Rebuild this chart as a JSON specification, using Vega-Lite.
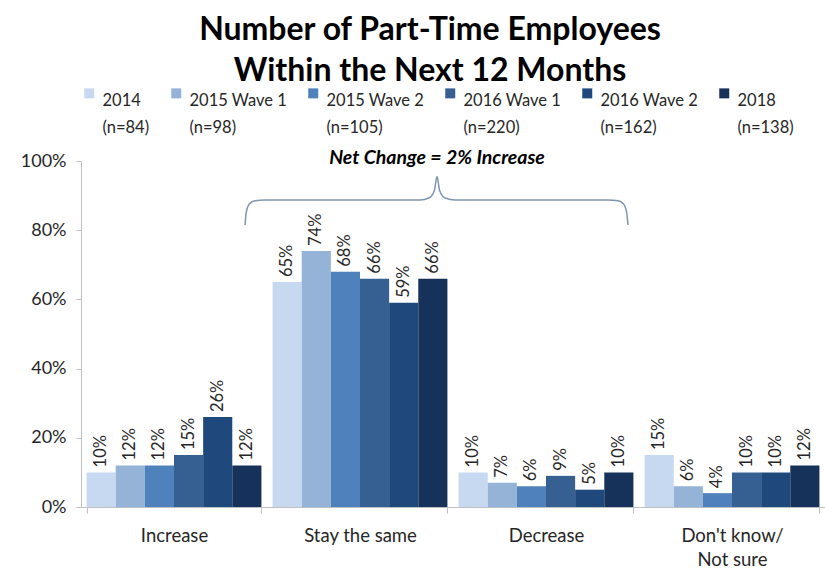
{
  "$schema": "https://vega.github.io/schema/vega-lite/v6.json",
  "width": 744,
  "height": 346,
  "autosize": "none",
  "padding": {"left": 81, "top": 161, "right": 0, "bottom": 62},
  "background": "white",
  "config": {
    "font": "Lato",
    "view": {"stroke": null},
    "style": {"guide-label": {"lineHeight": 27}}
  },
  "title": {
    "text": ["Number of Part-Time Employees", "Within the Next 12 Months"],
    "fontSize": 32,
    "fontWeight": "bold",
    "font": "Lato",
    "color": "#000000",
    "lineHeight": 41,
    "anchor": "middle",
    "dx": -23,
    "offset": -3
  },
  "datasets": {
    "bars": [
      {"cat": "Increase", "wave": "2014|(n=84)", "v": 0.10},
      {"cat": "Increase", "wave": "2015 Wave 1|(n=98)", "v": 0.12},
      {"cat": "Increase", "wave": "2015 Wave 2|(n=105)", "v": 0.12},
      {"cat": "Increase", "wave": "2016 Wave 1|(n=220)", "v": 0.15},
      {"cat": "Increase", "wave": "2016 Wave 2|(n=162)", "v": 0.26},
      {"cat": "Increase", "wave": "2018|(n=138)", "v": 0.12},
      {"cat": "Stay the same", "wave": "2014|(n=84)", "v": 0.65},
      {"cat": "Stay the same", "wave": "2015 Wave 1|(n=98)", "v": 0.74},
      {"cat": "Stay the same", "wave": "2015 Wave 2|(n=105)", "v": 0.68},
      {"cat": "Stay the same", "wave": "2016 Wave 1|(n=220)", "v": 0.66},
      {"cat": "Stay the same", "wave": "2016 Wave 2|(n=162)", "v": 0.59},
      {"cat": "Stay the same", "wave": "2018|(n=138)", "v": 0.66},
      {"cat": "Decrease", "wave": "2014|(n=84)", "v": 0.10},
      {"cat": "Decrease", "wave": "2015 Wave 1|(n=98)", "v": 0.07},
      {"cat": "Decrease", "wave": "2015 Wave 2|(n=105)", "v": 0.06},
      {"cat": "Decrease", "wave": "2016 Wave 1|(n=220)", "v": 0.09},
      {"cat": "Decrease", "wave": "2016 Wave 2|(n=162)", "v": 0.05},
      {"cat": "Decrease", "wave": "2018|(n=138)", "v": 0.10},
      {"cat": "Don't know/|Not sure", "wave": "2014|(n=84)", "v": 0.15},
      {"cat": "Don't know/|Not sure", "wave": "2015 Wave 1|(n=98)", "v": 0.06},
      {"cat": "Don't know/|Not sure", "wave": "2015 Wave 2|(n=105)", "v": 0.04},
      {"cat": "Don't know/|Not sure", "wave": "2016 Wave 1|(n=220)", "v": 0.10},
      {"cat": "Don't know/|Not sure", "wave": "2016 Wave 2|(n=162)", "v": 0.10},
      {"cat": "Don't know/|Not sure", "wave": "2018|(n=138)", "v": 0.12}
    ],
    "brace": [
      {"bx": 0.882, "by": 0.815},
      {"bx": 0.888, "by": 0.85},
      {"bx": 0.905, "by": 0.876},
      {"bx": 0.935, "by": 0.885},
      {"bx": 0.989, "by": 0.887},
      {"bx": 1.823, "by": 0.887},
      {"bx": 1.87, "by": 0.893},
      {"bx": 1.9, "by": 0.915},
      {"bx": 1.914, "by": 0.955},
      {"bx": 1.928, "by": 0.915},
      {"bx": 1.958, "by": 0.893},
      {"bx": 2.011, "by": 0.887},
      {"bx": 2.833, "by": 0.887},
      {"bx": 2.887, "by": 0.885},
      {"bx": 2.917, "by": 0.876},
      {"bx": 2.934, "by": 0.85},
      {"bx": 2.941, "by": 0.815}
    ],
    "note": [
      {"bx": 1.914, "by": 1.01, "label": "Net Change = 2% Increase"}
    ]
  },
  "layer": [
    {
      "data": {"name": "bars"},
      "encoding": {
        "x": {
          "field": "cat",
          "type": "nominal",
          "sort": ["Increase", "Stay the same", "Decrease", "Don't know/|Not sure"],
          "scale": {"paddingInner": 0.06, "paddingOuter": 0.03},
          "axis": {
            "title": null,
            "labelAngle": 0,
            "labelExpr": "split(datum.label, '|')",
            "labelFontSize": 18.5,
            "labelColor": "#262626",
            "labelPadding": 13,
            "labelLineHeight": 24,
            "domainColor": "#bfbfbf",
            "tickColor": "#bfbfbf",
            "tickBand": "extent",
            "tickSize": 6
          }
        },
        "xOffset": {
          "field": "wave",
          "type": "nominal",
          "sort": ["2014|(n=84)", "2015 Wave 1|(n=98)", "2015 Wave 2|(n=105)", "2016 Wave 1|(n=220)", "2016 Wave 2|(n=162)", "2018|(n=138)"],
          "scale": {"paddingInner": 0, "paddingOuter": 0}
        },
        "y": {
          "field": "v",
          "type": "quantitative",
          "scale": {"domain": [0, 1]},
          "axis": {
            "title": null,
            "values": [0, 0.2, 0.4, 0.6, 0.8, 1],
            "format": ".0%",
            "labelFontSize": 18,
            "labelColor": "#262626",
            "labelPadding": 10,
            "grid": false,
            "domainColor": "#bfbfbf",
            "tickColor": "#bfbfbf",
            "tickSize": 5
          }
        }
      },
      "layer": [
        {
          "mark": {"type": "bar"},
          "encoding": {
            "color": {
              "field": "wave",
              "type": "nominal",
              "sort": ["2014|(n=84)", "2015 Wave 1|(n=98)", "2015 Wave 2|(n=105)", "2016 Wave 1|(n=220)", "2016 Wave 2|(n=162)", "2018|(n=138)"],
              "scale": {"range": ["#c6d9f0", "#95b3d7", "#4f81bd", "#376092", "#1f497d", "#17325a"]},
              "legend": {
                "title": null,
                "orient": "top",
                "direction": "horizontal",
                "columns": 6,
                "labelExpr": "split(datum.label, '|')",
                "labelFontSize": 16.5,
                "labelColor": "#262626",
                "labelLimit": 200,
                "labelBaseline": "top",
                "labelOffset": 5,
                "symbolType": "square",
                "symbolSize": 100,
                "symbolStrokeWidth": 0,
                "columnPadding": 18,
                "offset": 24
              }
            }
          }
        },
        {
          "mark": {"type": "text", "angle": 270, "align": "left", "baseline": "middle", "dx": 5, "fontSize": 16.5, "color": "#262626"},
          "encoding": {
            "text": {"field": "v", "type": "quantitative", "format": ".0%"},
            "fontWeight": {
              "condition": {"test": "datum.wave == '2018|(n=138)'", "value": "bold"},
              "value": "normal"
            }
          }
        }
      ]
    },
    {
      "data": {"name": "brace"},
      "mark": {"type": "line", "interpolate": "monotone", "color": "#8095b0", "strokeWidth": 1.5},
      "encoding": {
        "x": {"field": "bx", "type": "quantitative", "scale": {"domain": [0, 4]}, "axis": null},
        "y": {"field": "by", "type": "quantitative"}
      }
    },
    {
      "data": {"name": "note"},
      "mark": {"type": "text", "fontSize": 19.5, "fontWeight": "bold", "fontStyle": "italic", "color": "#000000", "baseline": "middle", "align": "center"},
      "encoding": {
        "x": {"field": "bx", "type": "quantitative", "scale": {"domain": [0, 4]}, "axis": null},
        "y": {"field": "by", "type": "quantitative"},
        "text": {"field": "label"}
      }
    }
  ],
  "resolve": {"scale": {"x": "independent"}}
}
